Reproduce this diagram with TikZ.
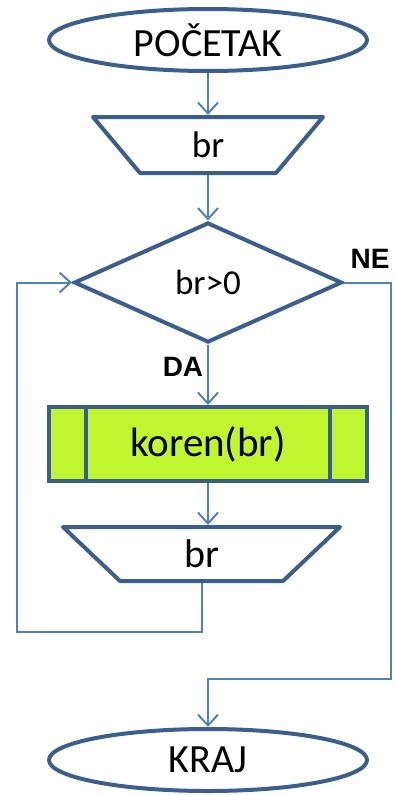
\documentclass[tikz,border=0pt]{standalone}
\usepackage{fontspec}
\setmainfont{Carlito}
\newfontfamily\labelfont{Liberation Sans}
\usetikzlibrary{shapes.geometric,arrows.meta,positioning}
\definecolor{frame}{RGB}{59,94,143}
\definecolor{flow}{RGB}{79,129,189}
\definecolor{limefill}{RGB}{192,246,48}

\tikzset{
	terminal/.style={ellipse, draw=frame, line width=4pt, minimum width=318, minimum height=62, inner sep=0, font=\fontsize{40}{48}\selectfont},
	% text box of an input/output block; the slanted outline is drawn round it
	iobox/.style={rectangle, inner sep=0, outer sep=2pt},
	ioframe/.style={draw=frame, line width=4pt, line join=round},
	decision/.style={diamond, draw=frame, line width=4pt, minimum width=268, minimum height=120, inner sep=0, font=\fontsize{35}{42}\selectfont},
	subproc/.style={rectangle, draw=frame, fill=limefill, line width=4pt, minimum width=318, minimum height=74, inner sep=0, font=\fontsize{41}{48}\selectfont},
	branch/.style={font=\labelfont\bfseries\fontsize{28}{32}\selectfont, inner sep=0},
	flowline/.style={draw=flow, line width=2pt},
	flowarrow/.style={flowline, -{Straight Barb[length=11pt,width=20pt]}}
}

\begin{document}
\begin{tikzpicture}[x=1pt,y=-1pt]
	\useasboundingbox (0,0) rectangle (394,795);

	% blocks
	\node[terminal] (start) at (208,40) {POČETAK};

	\node[iobox, minimum width=132, minimum height=56, font=\fontsize{37}{44}\selectfont] (read) at (208,145) {br};
	\draw [ioframe] ([xshift=-47pt,yshift=-2pt]read.north west) -- ([xshift=47pt,yshift=-2pt]read.north east)
		-- ([yshift=2pt]read.south east) -- ([yshift=2pt]read.south west) -- cycle;

	\node[decision] (check) at (208,282.5) {br>0};

	\node[subproc] (proc) at (208,444) {koren(br)};
	\draw [frame, line width=4pt] (proc.north west) ++(39,0) -- ++(0,74);
	\draw [frame, line width=4pt] (proc.north east) ++(-39,0) -- ++(0,74);

	\node[iobox, minimum width=159, minimum height=54, font=\fontsize{40}{48}\selectfont] (write) at (201.5,554) {br};
	\draw [ioframe] ([xshift=-57pt,yshift=-2pt]write.north west) -- ([xshift=57pt,yshift=-2pt]write.north east)
		-- ([yshift=2pt]write.south east) -- ([yshift=2pt]write.south west) -- cycle;

	\node[terminal] (stop) at (208,760) {KRAJ};

	\node[branch] (yes) at (183,367) {DA};
	\node[branch] (no) at (370,259) {NE};

	% corners of the two return lines
	\coordinate (loopcorner) at (17,632);
	\coordinate (exitcorner) at (391,679);

	% connectors
	\draw [flowarrow] (start) -- (read);
	\draw [flowarrow] (read) -- (check);
	\draw [flowarrow] (check.south) -- (proc.north);
	\draw [flowarrow] (proc.south) -- (proc.south |- write.north);
	\draw [flowarrow] (write.south) |- (loopcorner) |- (check.west);
	\draw [flowarrow] (check.east) -| (exitcorner) -| (stop.north);
\end{tikzpicture}
\end{document}
